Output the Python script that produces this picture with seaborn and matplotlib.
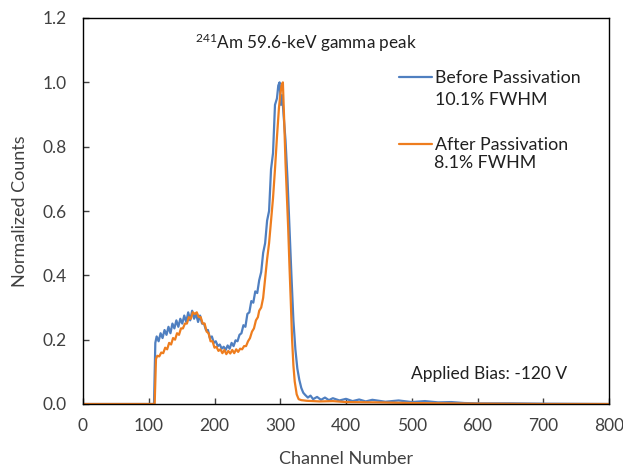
import pandas as pd
import matplotlib
matplotlib.use("Agg")
import matplotlib.pyplot as plt
import seaborn as sns

# Spectrum before passivation (channel, normalized counts)
before_ch = [0, 108, 110, 112, 115, 118, 121, 124, 127, 130, 133, 136, 139, 142, 145,
             148, 151, 154, 157, 160, 163, 166, 169, 172, 175, 178, 181, 184, 187, 190,
             193, 196, 199, 202, 205, 208, 211, 214, 217, 220, 223, 226, 229, 232, 235,
             238, 241, 244, 247, 250, 253, 256, 259, 262, 265, 268, 271, 274, 277, 280,
             283, 286, 289, 292, 295, 297, 299, 301, 303, 305, 308, 311, 314, 317, 320,
             323, 326, 329, 332, 335, 338, 342, 346, 350, 356, 362, 368, 374, 380, 390,
             400, 410, 420, 430, 440, 460, 480, 500, 520, 540, 560, 580, 600, 650, 700, 800]
before_val = [0.0, 0.0, 0.19, 0.21, 0.195, 0.22, 0.205, 0.23, 0.215, 0.24, 0.22, 0.25, 0.235, 0.26, 0.24,
              0.265, 0.25, 0.275, 0.255, 0.285, 0.26, 0.29, 0.265, 0.28, 0.255, 0.275, 0.25, 0.25, 0.23, 0.23,
              0.205, 0.21, 0.19, 0.195, 0.18, 0.185, 0.172, 0.178, 0.168, 0.182, 0.172, 0.19, 0.18, 0.198, 0.195,
              0.215, 0.22, 0.245, 0.24, 0.28, 0.285, 0.32, 0.315, 0.35, 0.345, 0.385, 0.41, 0.47, 0.50, 0.57,
              0.60, 0.73, 0.78, 0.93, 0.95, 0.99, 1.0, 0.93, 0.96, 0.90, 0.82, 0.70, 0.55, 0.40, 0.26,
              0.17, 0.11, 0.075, 0.05, 0.035, 0.028, 0.02, 0.026, 0.015, 0.022, 0.013, 0.02, 0.012, 0.018, 0.011,
              0.016, 0.009, 0.014, 0.008, 0.013, 0.007, 0.011, 0.006, 0.009, 0.005, 0.006, 0.003, 0.002, 0.002, 0.001, 0.0]

# Spectrum after passivation
after_ch = [0, 109, 111, 113, 116, 119, 122, 125, 128, 131, 134, 137, 140, 143, 146,
            149, 152, 155, 158, 161, 164, 167, 170, 173, 176, 179, 182, 185, 188, 191,
            194, 197, 200, 203, 206, 209, 212, 215, 218, 221, 224, 227, 230, 233, 236,
            239, 242, 245, 248, 251, 254, 257, 260, 263, 266, 268, 271, 274, 277, 280,
            283, 286, 289, 292, 295, 298, 300, 302, 304, 306, 308, 310, 312, 314, 316,
            318, 320, 322, 325, 328, 332, 340, 360, 380, 400, 450, 500, 550, 600, 700, 800]
after_val = [0.0, 0.0, 0.14, 0.15, 0.148, 0.16, 0.158, 0.175, 0.17, 0.19, 0.185, 0.205, 0.2, 0.22, 0.215,
             0.235, 0.235, 0.25, 0.25, 0.27, 0.265, 0.285, 0.28, 0.285, 0.27, 0.27, 0.25, 0.25, 0.225, 0.22,
             0.195, 0.195, 0.175, 0.178, 0.165, 0.17, 0.158, 0.168, 0.155, 0.165, 0.157, 0.168, 0.158, 0.17, 0.162,
             0.172, 0.17, 0.18, 0.18, 0.195, 0.205, 0.225, 0.235, 0.26, 0.27, 0.29, 0.30, 0.33, 0.39, 0.45,
             0.50, 0.57, 0.64, 0.73, 0.83, 0.92, 0.96, 0.99, 1.0, 0.88, 0.75, 0.65, 0.55, 0.43, 0.32,
             0.20, 0.12, 0.07, 0.03, 0.015, 0.012, 0.01, 0.008, 0.009, 0.006, 0.005, 0.003, 0.002, 0.001, 0.0, 0.0]

labels = ["Before Passivation", "After Passivation"]
fwhm = ["10.1% FWHM", "8.1% FWHM"]
colors = ["#4F7FC0", "#EE7D1E"]

df = pd.concat([
    pd.DataFrame({"Channel": before_ch, "Counts": before_val, "Sample": labels[0]}),
    pd.DataFrame({"Channel": after_ch, "Counts": after_val, "Sample": labels[1]}),
])

sns.set_style("ticks")
plt.rcParams['font.family'] = ['Lato', 'DejaVu Sans']
plt.rcParams['mathtext.default'] = 'regular'

W, H = 623, 470
fig = plt.figure(figsize=(W / 100, H / 100), dpi=100)
ax = fig.add_axes([83 / W, 1 - 404 / H, (609 - 83) / W, (404 - 18) / H])

sns.lineplot(data=df, x="Channel", y="Counts", hue="Sample", palette=colors,
             estimator=None, linewidth=1.6, ax=ax)

ax.set_xlim(0, 800)
ax.set_ylim(0, 1.2)
ax.set_xticks(range(0, 801, 100))
yt = [0, 0.2, 0.4, 0.6, 0.8, 1.0, 1.2]
ax.set_yticks(yt)
ax.set_yticklabels([f"{v:.1f}" for v in yt])
ax.tick_params(direction='in', length=4, width=1, labelsize=12.5, colors='#404040')
ax.tick_params(axis='x', pad=10)
ax.tick_params(axis='y', pad=12)
for s in ax.spines.values():
    s.set_visible(True)
    s.set_color('black')
    s.set_linewidth(1)

ax.set_xlabel("Channel Number", fontsize=13, color='#404040', labelpad=12)
ax.set_ylabel("Normalized Counts", fontsize=13, color='#404040', labelpad=10)

leg = ax.legend(loc='upper left', bbox_to_anchor=(0.571, 0.907), frameon=False,
                fontsize=12.8, handlelength=1.86, handletextpad=0.17, labelspacing=2.87)
for t in leg.get_texts():
    t.set_color('#202020')

fig.text(435 / W, 1 - 100 / H, fwhm[0], fontsize=12.8, color='#202020', va='center')
fig.text(434 / W, 1 - 163 / H, fwhm[1], fontsize=12.8, color='#202020', va='center')
fig.text(195 / W, 1 - 43 / H, r"$^{241}$Am 59.6-keV gamma peak",
         fontsize=12.3, color='#202020', va='center')
fig.text(411 / W, 1 - 374 / H, "Applied Bias: -120 V",
         fontsize=12.5, color='#202020', va='center')

fig.savefig("out.png", dpi=100)
